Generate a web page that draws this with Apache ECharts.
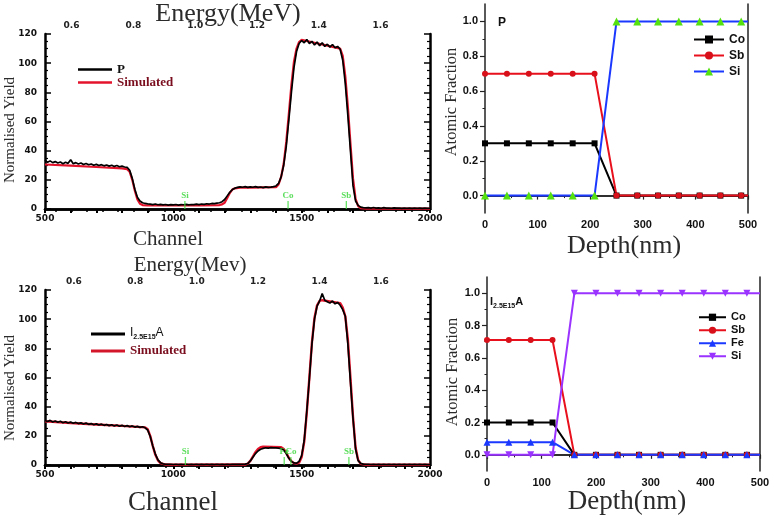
<!DOCTYPE html>
<html><head><meta charset="utf-8">
<script src="https://cdn.jsdelivr.net/npm/echarts@6/dist/echarts.min.js"></script>
<style>html,body{margin:0;padding:0;background:#fff}#c{width:774px;height:521px}</style>
</head><body><div id="c"></div>
<script>
// ---------- DATA ----------
const channels = [500,510,520,530,540,550,560,570,580,590,600,610,620,630,640,650,660,670,680,690,700,710,720,730,740,750,760,770,780,790,800,810,820,830,840,850,860,870,880,890,900,910,920,930,940,950,960,970,980,990,1000,1010,1020,1030,1040,1050,1060,1070,1080,1090,1100,1110,1120,1130,1140,1150,1160,1170,1180,1190,1200,1210,1220,1230,1240,1250,1260,1270,1280,1290,1300,1310,1320,1330,1340,1350,1360,1370,1380,1390,1400,1410,1420,1430,1440,1450,1460,1470,1480,1490,1500,1510,1520,1530,1540,1550,1560,1570,1580,1590,1600,1610,1620,1630,1640,1650,1660,1670,1680,1690,1700,1710,1720,1730,1740,1750,1760,1770,1780,1790,1800,1810,1820,1830,1840,1850,1860,1870,1880,1890,1900,1910,1920,1930,1940,1950,1960,1970,1980,1990,2000];
const pYield = [33.5,32.0,33.0,31.8,32.5,31.5,32.2,31.0,32.0,31.3,
33.8,31.0,31.8,30.8,31.5,30.5,31.2,30.3,30.9,30.0,
30.6,29.8,30.4,29.6,30.2,29.4,30.0,29.2,29.8,29.0,
29.4,28.8,28.6,26.5,21.0,13.5,8.0,5.5,4.3,3.8,
3.5,3.3,3.0,3.4,2.9,3.2,2.8,3.1,2.7,3.0,
2.8,3.1,2.7,3.0,2.9,3.2,2.8,3.1,3.0,3.3,
3.0,3.4,3.2,3.6,3.4,3.8,3.7,4.0,4.3,5.0,
6.5,9.0,11.5,13.3,14.3,14.8,15.2,14.9,15.3,14.8,
15.2,14.9,15.3,14.8,15.1,14.7,15.2,14.8,15.0,15.3,
15.8,17.5,22.0,30.0,43.0,61.0,80.0,97.0,108.0,113.5,
115.5,114.0,116.2,113.5,115.0,112.5,114.5,112.0,114.0,111.5,
113.0,111.0,112.8,110.5,111.5,109.5,102.0,86.0,64.0,40.0,
16.0,5.5,2.5,1.3,1.0,0.8,0.9,0.6,1.0,0.6,
0.8,0.5,0.9,0.6,0.7,0.5,0.8,0.6,0.7,0.4,
0.7,0.5,0.6,0.4,0.7,0.5,0.6,0.4,0.6,0.5,
0.5];
const simTopChannels = [500,600,700,800,820,830,840,850,860,870,880,900,1000,1100,1180,1190,1200,1210,1220,1230,1240,1260,1300,1400,1410,1420,1430,1440,1450,1460,1470,1480,1490,1500,1550,1600,1650,1660,1670,1680,1690,1700,1710,1720,1730,1750,2000];
const simTopYield = [30.5,29.8,28.8,27.8,27.3,25.5,20.0,12.5,6.5,3.6,2.7,2.4,2.4,2.5,2.7,3.2,4.3,7.5,11.0,13.3,14.2,14.6,14.7,15.0,16.8,22.0,31.0,46.0,65.0,85.0,101.0,110.0,114.5,116.0,114.0,112.0,110.0,105.0,91.0,70.0,45.0,21.0,7.0,2.0,0.6,0.2,0.2];
const iYield = [30.5,29.8,30.6,29.5,30.2,29.3,30.0,29.0,29.7,28.8,
29.4,28.6,29.2,28.4,28.9,28.1,28.7,27.9,28.4,27.6,
28.2,27.4,28.0,27.2,27.8,27.0,27.6,26.8,27.4,26.6,
27.2,26.4,27.0,26.2,26.8,26.0,26.5,25.8,26.2,25.5,
24.0,19.5,13.0,7.5,3.5,1.6,0.8,0.5,0.4,0.5,
0.3,0.5,0.3,0.4,0.3,0.5,0.3,0.4,0.3,0.5,
0.3,0.4,0.3,0.5,0.3,0.4,0.3,0.5,0.3,0.4,
0.3,0.5,0.3,0.4,0.4,0.5,0.4,0.5,0.6,1.0,
2.8,5.3,7.8,9.6,10.8,11.4,11.8,11.6,11.9,11.7,
11.8,11.6,11.2,10.3,7.8,4.6,2.5,1.4,1.2,2.5,
6.5,17.0,37.0,59.0,83.0,100.0,109.0,112.5,117.5,113.0,
112.0,111.0,112.5,110.5,111.5,109.5,106.5,102.0,83.0,57.0,
32.0,11.0,3.0,1.1,0.6,0.4,0.5,0.3,0.4,0.3,
0.4,0.3,0.4,0.3,0.4,0.3,0.4,0.3,0.4,0.3,
0.4,0.3,0.4,0.3,0.4,0.3,0.4,0.3,0.4,0.3,
0.3];
const simBotChannels = [500,600,700,800,890,900,910,920,930,940,950,970,1000,1280,1290,1300,1310,1320,1330,1340,1350,1420,1430,1440,1450,1460,1470,1480,1490,1500,1510,1520,1530,1540,1550,1560,1570,1580,1650,1660,1670,1680,1690,1700,1710,1720,1730,1750,2000];
const simBotYield = [30.0,28.8,27.8,26.8,25.8,24.5,20.0,13.0,7.0,3.2,1.3,0.3,0.2,0.3,0.9,2.8,5.8,8.8,11.0,12.2,12.5,12.2,11.0,8.3,5.0,2.6,1.3,0.9,1.6,5.5,16.0,36.0,60.0,84.0,101.0,109.5,112.5,113.0,111.0,108.0,102.0,86.0,60.0,33.0,12.0,3.5,0.8,0.2,0.2];
const topElemChannels = [1045,1447,1674];
const topElemNames = ['Si','Co','Sb'];
const botElemChannels = [1047,1432,1458,1684];
const botElemNames = ['Si','Fe','Co','Sb'];

const depthTop = [0,41.7,83.3,125,166.7,208.3,250,289.5,329,368.5,408,447.5,487,500];
const coTop = [0.3,0.3,0.3,0.3,0.3,0.3,0,0,0,0,0,0,0,0];
const sbTop = [0.7,0.7,0.7,0.7,0.7,0.7,0,0,0,0,0,0,0,0];
const siTop = [0,0,0,0,0,0,1,1,1,1,1,1,1,1];
const depthBot = [0,40,80,120,160,199.5,239,278.5,318,357.5,397,436.5,476,500];
const coBot = [0.2,0.2,0.2,0.2,0,0,0,0,0,0,0,0,0,0];
const sbBot = [0.71,0.71,0.71,0.71,0,0,0,0,0,0,0,0,0,0];
const feBot = [0.078,0.078,0.078,0.078,0,0,0,0,0,0,0,0,0,0];
const siBot = [0,0,0,0,1,1,1,1,1,1,1,1,1,1];

const yieldTicks = [0,20,40,60,80,100,120];
const energyLabels = [0.6,0.8,1.0,1.2,1.4,1.6];
const energyTicks = [0.55,0.6,0.65,0.7,0.75,0.8,0.85,0.9,0.95,1.0,1.05,1.1,1.15,1.2,1.25,1.3,1.35,1.4,1.45,1.5,1.55,1.6,1.65,1.7,1.75];
const fracLabels = [0,0.2,0.4,0.6,0.8,1.0];
const fracMinor = [0.1,0.3,0.5,0.7,0.9];

// ---------- STYLE ----------
const SERIF = '"Liberation Serif","Times New Roman",serif';
const SANS = '"Liberation Sans",Arial,sans-serif';
const SANSW = '"DejaVu Sans",sans-serif';
const pairs = (xs, ys) => xs.map((x, i) => [x, ys[i]]);
const depthData = (xs, ys) => xs.map((x, i) => i === xs.length - 1 ? {value: [x, ys[i]], symbol: 'none'} : [x, ys[i]]);

function chanAxis(g) {
  return {gridIndex: g, type: 'value', min: 500, max: 2000, interval: 500, position: 'bottom',
    axisLine: {lineStyle: {color: '#000', width: 2.5}},
    axisTick: {inside: false, length: 4, lineStyle: {color: '#000', width: 2}},
    minorTick: {show: true, splitNumber: 5, length: 4, lineStyle: {color: '#000', width: 2}},
    axisLabel: {formatter: v => String(v), fontFamily: SANSW, fontWeight: 'bold', fontSize: 9, color: '#111', margin: 5},
    splitLine: {show: false}};
}
function energyAxis(g, mn, mx) {
  return {gridIndex: g, type: 'value', min: mn, max: mx, position: 'top',
    axisLine: {lineStyle: {color: '#000', width: 2.5}},
    axisTick: {customValues: energyTicks, inside: true, length: 3, lineStyle: {color: '#000', width: 1.5}},
    axisLabel: {customValues: energyLabels, formatter: v => v.toFixed(1), fontFamily: SANSW, fontWeight: 'bold', fontSize: 9, color: '#222', margin: 4},
    splitLine: {show: false}};
}
function yieldAxis(g, pos) {
  return {gridIndex: g, type: 'value', min: 0, max: 120, interval: 20, position: pos,
    axisLine: {show: true, lineStyle: {color: '#000', width: 2.5}},
    axisTick: {show: true, inside: true, length: 6, lineStyle: {color: '#000', width: 1.5}},
    minorTick: {show: true, splitNumber: 4, length: 3, lineStyle: {color: '#000', width: 1.2}},
    axisLabel: {show: pos === 'left', customValues: yieldTicks, fontFamily: SANSW, fontWeight: 'bold', fontSize: 9, color: '#111', margin: 8},
    splitLine: {show: false}};
}
function depthAxis(g) {
  return {gridIndex: g, type: 'value', min: 0, max: 500, interval: 100, position: 'bottom',
    axisLine: {lineStyle: {color: '#222', width: 1.5}},
    axisTick: {inside: false, length: 4, lineStyle: {color: '#222', width: 1.2}},
    minorTick: {show: true, splitNumber: 2, length: 2.5, lineStyle: {color: '#222', width: 1}},
    axisLabel: {fontFamily: SANS, fontWeight: 'bold', fontSize: 11, color: '#111', margin: 6},
    splitLine: {show: false}};
}
function frameX(g) {
  return {gridIndex: g, type: 'value', min: 0, max: 500, position: 'top',
    axisLine: {lineStyle: {color: '#222', width: 1.5}}, axisTick: {show: false}, axisLabel: {show: false}, splitLine: {show: false}};
}
function fracAxis(g) {
  return {gridIndex: g, type: 'value', min: -0.1, max: 1.1, position: 'left',
    axisLine: {show: true, lineStyle: {color: '#222', width: 1.5}},
    axisTick: {show: true, customValues: fracLabels, length: 5, lineStyle: {color: '#222', width: 1.2}},
    axisLabel: {customValues: fracLabels, formatter: v => v.toFixed(1), fontFamily: SANS, fontWeight: 'bold', fontSize: 11, color: '#111', margin: 7},
    splitLine: {show: false}};
}
function fracMinorAxis(g) {
  return {gridIndex: g, type: 'value', min: -0.1, max: 1.1, position: 'left',
    axisLine: {show: false},
    axisTick: {show: true, customValues: fracMinor, length: 2.5, lineStyle: {color: '#222', width: 1}},
    axisLabel: {show: false}, splitLine: {show: false}};
}
function frameY(g) {
  return {gridIndex: g, type: 'value', min: -0.1, max: 1.1, position: 'right',
    axisLine: {show: true, lineStyle: {color: '#222', width: 1.5}}, axisTick: {show: false}, axisLabel: {show: false}, splitLine: {show: false}};
}

const legendText = {
  P: 'P', simA: 'Simulated', I: '{a|I}{b|2.5E15}{a|A}', simB: 'Simulated',
  co1: 'Co', sb1: 'Sb', si1: 'Si', co2: 'Co', sb2: 'Sb', fe2: 'Fe', si2: 'Si'
};
const fmt = n => legendText[n];

function elemSeries(xi, yi, chs, names) {
  return {type: 'scatter', xAxisIndex: xi, yAxisIndex: yi, symbol: 'rect', symbolSize: [1.3, 8], symbolOffset: [0, -4],
    itemStyle: {color: '#3ddc3d'}, z: 5, silent: true,
    label: {show: true, position: 'top', distance: 1, formatter: p => p.name, color: '#33d633',
      fontFamily: SERIF, fontWeight: 'bold', fontSize: 9},
    data: chs.map((c, i) => ({name: names[i], value: [c, 0]}))};
}
function depthSeries(name, xi, yi, xs, ys, color, symbol, symColor, size, rot) {
  return {name, type: 'line', xAxisIndex: xi, yAxisIndex: yi, data: depthData(xs, ys),
    symbol, symbolSize: size, symbolRotate: rot || 0, showSymbol: true,
    lineStyle: {color, width: 2}, itemStyle: {color: symColor, borderWidth: 0}};
}

const option = {
  animation: false,
  backgroundColor: '#fff',
  grid: [
    {left: 45, top: 34, width: 385, height: 175},
    {left: 45, top: 290, width: 385, height: 175},
    {left: 485, top: 4, width: 263, height: 209},
    {left: 487, top: 277, width: 273, height: 194}
  ],
  xAxis: [chanAxis(0), energyAxis(0, 0.514, 1.760), chanAxis(1), energyAxis(1, 0.506, 1.760),
          depthAxis(2), frameX(2), depthAxis(3), frameX(3)],
  yAxis: [yieldAxis(0, 'left'), yieldAxis(0, 'right'), yieldAxis(1, 'left'), yieldAxis(1, 'right'),
          fracAxis(2), fracMinorAxis(2), frameY(2), fracAxis(3), fracMinorAxis(3), frameY(3)],
  legend: [
    {data: [{name: 'P', icon: 'rect'}, {name: 'simA', icon: 'rect', textStyle: {color: '#7a0e1e'}}], formatter: fmt, orient: 'vertical',
     left: 73, top: 58, itemWidth: 34, itemHeight: 2.5, itemGap: 0,
     textStyle: {fontFamily: SERIF, fontWeight: 'bold', fontSize: 13, lineHeight: 12.5, color: '#111'}},
    {data: [{name: 'I', icon: 'rect'}, {name: 'simB', icon: 'rect', textStyle: {color: '#7a0e1e', fontFamily: SERIF, fontWeight: 'bold', fontSize: 13, lineHeight: 14}}], formatter: fmt, orient: 'vertical',
     left: 86, top: 322, itemWidth: 34, itemHeight: 3, itemGap: 3,
     textStyle: {fontFamily: SANS, fontSize: 12, color: '#111',
       rich: {a: {fontFamily: SANS, fontSize: 12, color: '#111', lineHeight: 14, verticalAlign: 'top'},
              b: {fontFamily: SANS, fontSize: 7, fontWeight: 'bold', color: '#111', verticalAlign: 'bottom'}}}},
    {data: ['co1', 'sb1', 'si1'], formatter: fmt, orient: 'vertical', left: 688, top: 27,
     itemWidth: 30, itemHeight: 10, itemGap: 1,
     textStyle: {fontFamily: SANS, fontWeight: 'bold', fontSize: 12, lineHeight: 15, color: '#111'}},
    {data: ['co2', 'sb2', 'fe2', 'si2'], formatter: fmt, orient: 'vertical', left: 693, top: 306,
     itemWidth: 27, itemHeight: 9, itemGap: 0.5,
     textStyle: {fontFamily: SANS, fontWeight: 'bold', fontSize: 11, lineHeight: 12.5, color: '#111'}}
  ],
  series: [
    {name: 'simA', type: 'line', xAxisIndex: 0, yAxisIndex: 0, data: pairs(simTopChannels, simTopYield),
     symbol: 'none', lineStyle: {color: '#e3132b', width: 2.2}, itemStyle: {color: '#e3132b'}},
    {name: 'P', type: 'line', xAxisIndex: 0, yAxisIndex: 0, data: pairs(channels, pYield),
     symbol: 'none', lineStyle: {color: '#000', width: 1.7}, itemStyle: {color: '#000'}},
    elemSeries(0, 0, topElemChannels, topElemNames),
    {name: 'simB', type: 'line', xAxisIndex: 2, yAxisIndex: 2, data: pairs(simBotChannels, simBotYield),
     symbol: 'none', lineStyle: {color: '#e3132b', width: 2.4}, itemStyle: {color: '#d4162b'}},
    {name: 'I', type: 'line', xAxisIndex: 2, yAxisIndex: 2, data: pairs(channels, iYield),
     symbol: 'none', lineStyle: {color: '#000', width: 1.7}, itemStyle: {color: '#000'}},
    elemSeries(2, 2, botElemChannels, botElemNames),
    depthSeries('co1', 4, 4, depthTop, coTop, '#000', 'rect', '#000', 6),
    depthSeries('sb1', 4, 4, depthTop, sbTop, '#e8101c', 'circle', '#d8101a', 6),
    depthSeries('si1', 4, 4, depthTop, siTop, '#1b38ff', 'triangle', '#55e010', 8),
    depthSeries('co2', 6, 7, depthBot, coBot, '#000', 'rect', '#000', 6),
    depthSeries('sb2', 6, 7, depthBot, sbBot, '#e8101c', 'circle', '#d8101a', 6),
    depthSeries('fe2', 6, 7, depthBot, feBot, '#1b38ff', 'triangle', '#1b38ff', 7),
    depthSeries('si2', 6, 7, depthBot, siBot, '#9a33ff', 'triangle', '#9a33ff', 7, 180)
  ],
  graphic: [
    {type: 'text', x: 228, y: 14, style: {text: 'Energy(MeV)', fontFamily: SERIF, fontSize: 26, fill: '#2b2b2b', textAlign: 'center', textVerticalAlign: 'middle'}},
    {type: 'text', x: 168, y: 239, style: {text: 'Channel', fontFamily: SERIF, fontSize: 21, fill: '#2b2b2b', textAlign: 'center', textVerticalAlign: 'middle'}},
    {type: 'text', x: 190, y: 265, style: {text: 'Energy(Mev)', fontFamily: SERIF, fontSize: 21, fill: '#2b2b2b', textAlign: 'center', textVerticalAlign: 'middle'}},
    {type: 'text', x: 173, y: 503, style: {text: 'Channel', fontFamily: SERIF, fontSize: 27, fill: '#2b2b2b', textAlign: 'center', textVerticalAlign: 'middle'}},
    {type: 'text', x: 10, y: 130, rotation: Math.PI / 2, style: {text: 'Normalised Yield', fontFamily: SERIF, fontSize: 15, fill: '#2b2b2b', textAlign: 'center', textVerticalAlign: 'middle'}},
    {type: 'text', x: 10, y: 388, rotation: Math.PI / 2, style: {text: 'Normalised Yield', fontFamily: SERIF, fontSize: 15, fill: '#2b2b2b', textAlign: 'center', textVerticalAlign: 'middle'}},
    {type: 'text', x: 452, y: 102, rotation: Math.PI / 2, style: {text: 'Atomic Fraction', fontFamily: SERIF, fontSize: 16.5, fill: '#2b2b2b', textAlign: 'center', textVerticalAlign: 'middle'}},
    {type: 'text', x: 453, y: 372, rotation: Math.PI / 2, style: {text: 'Atomic Fraction', fontFamily: SERIF, fontSize: 16.5, fill: '#2b2b2b', textAlign: 'center', textVerticalAlign: 'middle'}},
    {type: 'text', x: 624, y: 246, style: {text: 'Depth(nm)', fontFamily: SERIF, fontSize: 26, fill: '#2b2b2b', textAlign: 'center', textVerticalAlign: 'middle'}},
    {type: 'text', x: 627, y: 502, style: {text: 'Depth(nm)', fontFamily: SERIF, fontSize: 27, fill: '#2b2b2b', textAlign: 'center', textVerticalAlign: 'middle'}},
    {type: 'text', x: 498, y: 23, style: {text: 'P', fontFamily: SANS, fontWeight: 'bold', fontSize: 12, fill: '#111', textAlign: 'left', textVerticalAlign: 'middle'}},
    {type: 'text', x: 490, y: 303, style: {text: '{a|I}{b|2.5E15}{a|A}', fill: '#111', textAlign: 'left', textVerticalAlign: 'middle',
      rich: {a: {fontFamily: SANS, fontWeight: 'bold', fontSize: 11, lineHeight: 14, verticalAlign: 'top', fill: '#111'},
             b: {fontFamily: SANS, fontWeight: 'bold', fontSize: 7, verticalAlign: 'bottom', fill: '#111'}}}}
  ]
};
const chart = echarts.init(document.getElementById('c'), null, {renderer: 'canvas'});
chart.setOption(option);
</script>
</body></html>
